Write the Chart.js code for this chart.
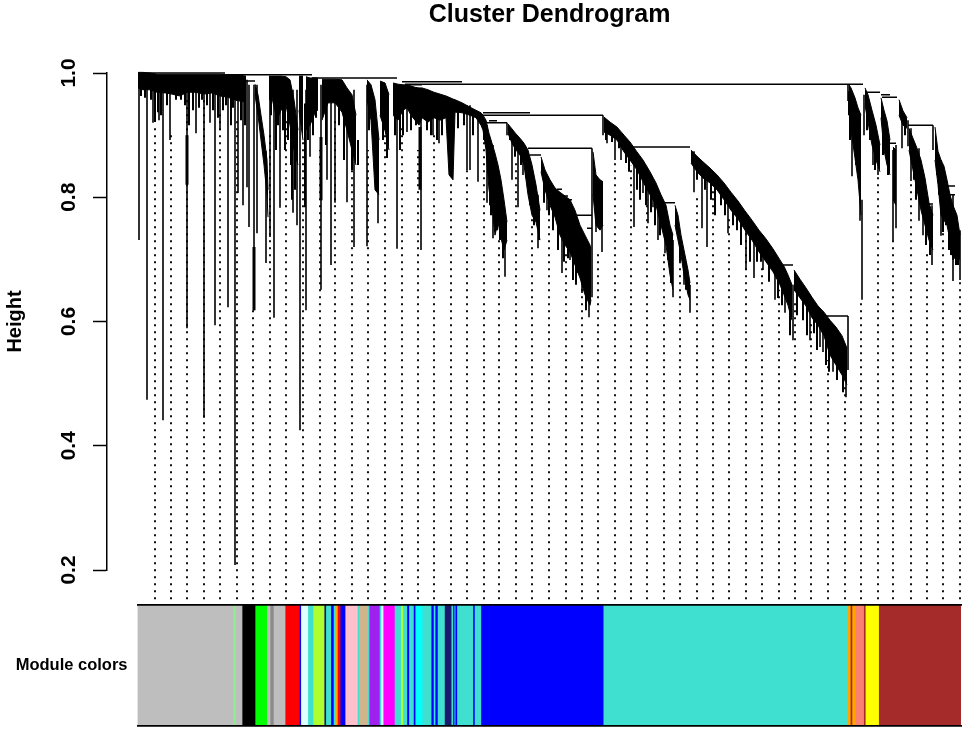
<!DOCTYPE html>
<html>
<head>
<meta charset="utf-8">
<title>Cluster Dendrogram</title>
<script src="https://cdn.jsdelivr.net/npm/chart.js@4"></script>
<style>
  html, body { margin: 0; padding: 0; background: #fff; }
  #wrap { position: relative; width: 965px; height: 732px; overflow: hidden; }
  canvas { position: absolute; left: 0; }
</style>
</head>
<body>
<div id="wrap">
  <canvas id="tree" width="965" height="600" style="top:0"></canvas>
  <canvas id="modules" width="965" height="132" style="top:600px"></canvas>
</div>
<script>
// tree outline (x = leaf position, null = gap between clusters)
const canopyX = [0,5,12,19,27,34,42,49,57,66,74,82,90,98,108,110,
  117,120,123,126,129,130,130.5,131,134,139,143,148,152,156,160,160.5,161,165,166.5,168,172,178,180,182,
  184,190,197,204,209,214,218,222,229,233,237,241,241.5,242,247,251,253,
  255,260,265,269,273,277,281,284,290,296,302,308,311,315,317,324,332,338,343,345,348,351,354,357,360,363,366,369,369.5,
  370,374,378,382,386,390,394,398,402,402.5,403,407,412,417,422,427,432,437,442,447,452,453,454,455,458,462,465,465.5,
  466,472,479,486,492,499,505,512,518,523,528,532,535,536,537,540,543,546,550,552,552.5,
  553,559,565,572,579,586,593,600,607,614,621,628,635,642,646,650,654,655,
  656,662,668,674,680,686,692,698,704,709,710,
  711,713,717,720,723,725,727,730,734,738,742,742.5,743,746,749,752,753,755,758,759.5,761,765,769,770.5,
  771,775,779,783,787,791,795,796,797,800,803,806,809,812,815,819,822];
const canopyTop = [1.001,1.001,1,.998,.998,.998,.998,.998,.998,.998,.998,.998,.997,.997,.995,null,
  .982,.965,.932,.9,.86,.812,null,.995,.995,.995,.995,.994,.989,.957,.908,null,.995,.995,null,.994,.992,.992,.992,null,
  .99,.99,.99,.989,.976,.965,.932,null,.989,.981,.957,.892,null,.987,.984,.965,null,
  .984,.982,.981,.981,.979,.977,.976,.976,.973,.969,.966,.963,.961,.958,.957,.952,.945,.94,.936,.932,.924,.903,.887,.871,.852,.828,.796,.76,null,
  .918,.91,.902,.895,.887,.876,.852,.82,.779,null,.865,.844,.828,.815,.808,.802,.796,.779,.755,.739,.723,.715,null,.873,.836,.828,.825,null,
  .929,.921,.913,.9,.889,.873,.86,.841,.823,.804,.787,.755,.739,null,.787,.771,.739,.715,.683,.662,null,
  .876,.866,.857,.847,.836,.823,.808,.794,.778,.763,.747,.733,.717,.699,.689,.675,.659,null,
  .683,.668,.654,.639,.625,.615,.602,.591,.577,.557,null,
  .981,.976,.96,.944,.932,null,.976,.965,.94,.916,.884,null,.96,.94,.923,.892,null,.881,.876,null,.957,.939,.928,null,
  .911,.895,.879,.86,.831,.791,.771,null,.913,.874,.86,.85,.828,.804,.787,.771,.739];
const canopyBottom = [.976,.973,.973,.969,.968,.966,.963,.969,.969,.966,.968,.963,.961,.956,.953,null,
  .965,.932,.892,.852,.804,.768,null,.957,.96,.924,.94,.948,.916,.876,.852,null,.94,.892,null,.908,.916,.94,.94,null,
  .924,.952,.952,.937,.908,.876,.852,null,.957,.924,.812,.804,null,.932,.908,.876,null,
  .932,.924,.94,.944,.932,.924,.916,.928,.921,.928,.924,.928,.836,.828,.937,.936,.932,.928,.916,.908,.876,.812,.787,.739,.76,.734,.715,.731,null,
  .903,.887,.876,.868,.852,.804,.771,.76,.731,null,.841,.812,.787,.768,.739,.723,.712,.691,.67,.643,.626,.635,null,.804,.755,.747,.755,null,
  .905,.9,.892,.873,.86,.844,.825,.804,.787,.755,.723,.675,.651,null,.755,.731,.707,.675,.643,.635,null,
  .855,.841,.831,.823,.812,.796,.779,.765,.747,.731,.712,.696,.68,.659,.643,.626,.602,null,
  .651,.638,.625,.606,.594,.577,.546,.53,.514,.498,null,
  .96,.908,.863,.828,.771,null,.948,.921,.884,.86,.841,null,.928,.876,.852,.836,null,.796,.787,null,.932,.916,.911,null,
  .876,.844,.812,.779,.755,.731,.715,null,.86,.82,.771,.763,.755,.731,.699,.707,.699];

// single branches hanging below the outline
const spikeX = [1,9,15,21,25,32,49,58,66,72,77,82,90,97,100,105,109,111,116,119,128,132,136,142,155,159,162,168,172,
  183,189,193,197,209,216,229,240,259,269,283,295,301,329,332,340,349,355,367,374,380,385,400,409,424,432,440,444,451,454,458,464,
  469,477,483,496,505,510,515,520,527,535,546,552,556,564,569,590,608,616,625,637,647,655,672,682,685,695,708,710,710,
  714,722,724,726,735,740,755,758,764,770,773,781,785,794,803,815,822,465,369,795];
const spikeTop = [.989,.989,.989,.989,.989,.989,.989,.989,.989,.989,.989,.989,.989,.989,.989,.989,.989,.981,.981,.981,.875,.973,.973,.973,.973,.973,.973,.973,.973,
  .981,.981,.981,.981,.973,.973,.981,.892,.981,.981,.976,.969,.966,.948,.948,.937,.916,.884,.747,.9,.892,.884,.804,.831,.796,.787,.763,.739,.715,.879,.836,.812,
  .924,.908,.9,.876,.852,.844,.828,.812,.779,.731,.707,.659,.874,.852,.844,.812,.771,.755,.739,.707,.683,.659,.643,.618,.61,.586,.554,.982,.609,
  .957,.908,.796,.965,.924,.876,.876,.884,.937,.924,.911,.879,.844,.787,.86,.804,.747,.932,.92,.916];
const spikeBottom = [.731,.474,.92,.924,.441,.892,.589,.903,.445,.92,.594,.908,.623,.208,.807,.787,.816,.752,.618,.742,.694,.736,.606,.783,.775,.755,.425,.618,.865,
  .651,.828,.691,.791,.792,.72,.721,.758,.717,.905,.715,.9,.887,.844,.844,.825,.791,.734,.672,.828,.784,.836,.718,.779,.678,.699,.678,.646,.607,.639,.744,.712,
  .887,.86,.86,.752,.807,.758,.784,.731,.71,.639,.659,.614,.808,.75,.72,.742,.683,.67,.683,.635,.614,.57,.57,.559,.551,.519,.478,.955,.522,
  .834,.762,.635,.9,.852,.836,.73,.75,.879,.882,.826,.762,.739,.691,.738,.665,.667,.9,.9,.876];

// the few stems that read thicker than the rest
const thickX = [116,183,282,49];
const thickTop = [.72,.897,.913,.9];
const thickBottom = [.618,.795,.812,.82];

// short stubs along the underside of the branches
const stubX = [3,7,13,17,20,23,29,38,43,47,51,55,61,64,69,75,80,85,88,93,95,103,107,
  133,138,140,145,147,150,153,154,157,163,167,170,175,178,188,201,206,214,220,231,245,249,257,262,265,273,278,289,293,299,304,320,326,335,
  346,352,353,359,362,365,372,377,383,388,392,396,401,406,411,415,420,426,430,435,438,448,
  468,474,481,488,491,499,502,508,513,517,522,530,533,542,548,
  559,567,573,577,583,587,595,599,603,612,619,623,631,640,644,652,659,665,669,676,679,688,691,699,705,
  711,712,718,729,732,737,745,750,767,776,778,788,792,799,801,805,808,811,813,818,820];
const stubBottom = [.963,.96,.957,.921,.937,.932,.948,.957,.957,.948,.916,.94,.944,.957,.948,.94,.928,.94,.948,.916,.944,.924,.916,
  .932,.876,.916,.908,.876,.892,.852,.796,.812,.924,.784,.892,.9,.928,.884,.916,.86,.844,.852,.908,.892,.863,.9,.876,.9,.908,.916,.908,.9,.892,.9,.911,.916,.9,
  .892,.787,.771,.747,.731,.702,.892,.865,.852,.831,.787,.755,.731,.791,.771,.747,.715,.696,.702,.667,.659,.618,
  .892,.889,.879,.855,.841,.812,.796,.787,.776,.755,.739,.699,.662,.696,.651,
  .828,.812,.796,.771,.787,.771,.755,.747,.723,.696,.696,.696,.664,.638,.626,.578,.61,.602,.578,.581,.554,.53,.519,.506,.486,
  .932,.892,.852,.908,.892,.844,.868,.836,.9,.828,.796,.723,.707,.836,.804,.744,.755,.715,.707,.691,.691];

// horizontal merges
const linkStart = [0,87,174,264,272,267,710,107,345,345,347,351,390,392,439,449,419,425,430,495,525,645,689,727,744,743,770,752,790,809,810];
const linkEnd = [87,174,259,324,284,710,725,117,465,392,369,359,454,403,454,454,424,430,434,552,537,655,710,742,759,752,795,758,795,817,817];
const linkHeight = [1,.997,.992,.986,.981,.982,.982,.987,.932,.936,.92,.923,.879,.868,.771,.75,.813,.802,.796,.881,.791,.691,.609,.969,.961,.965,.916,.887,.789,.818,.804];

// dotted guide columns
const guideX = [17,33,49,66,82,99,115,132,148,165,182,197,214,230,247,264,280,296,313,329,346,361,378,394,411,428,444,460,477,493,509,526,542,559,575,591,608,624,641,657,673,690,707,723,740,755,773,789,805,822];
const guideTop = [.913,.9,.957,.957,.94,.924,.618,.908,.924,.892,.876,.924,.908,.876,.924,.916,.876,.9,.828,.844,.916,.731,.86,.771,.787,.715,.667,.715,.86,.852,.796,.715,.699,.804,.812,.771,.747,.691,.651,.635,.602,.538,.498,.635,.836,.731,.828,.715,.755,.667];
const guideBase = .153;

const heightTicks = [.2,.4,.6,.8,1];

// module colour strip, left to right
const moduleColors = ['#bebebe','#90ee90','#bebebe','#000000','#00ff00','#bebebe','#8a8a8a','#bebebe','#ff0000','#0000ff','#e0ffff','#40e0d0','#adff2f','#191970','#40e0d0','#0000ff','#40e0d0','#ffa500','#ff0000','#0000ff','#ffc0cb','#40e0d0','#d2b48c','#40e0d0','#a020f0','#40e0d0','#e0ffff','#ff00ff','#40e0d0','#adff2f','#40e0d0','#0000ff','#40e0d0','#0000ff','#00ffff','#40e0d0','#0000ff','#40e0d0','#0000ff','#40e0d0','#191970','#40e0d0','#0000ff','#40e0d0','#0000ff','#40e0d0','#0000ff','#40e0d0','#0000ff','#40e0d0','#ffa500','#a52a2a','#ffa500','#fa8072','#a52a2a','#ffff00','#a52a2a'];
const moduleWidths = [96,1.8,6.7,13,11.7,3.3,3.3,11.7,14.3,1.4,7,5.3,11,1.7,5,2.6,1.7,2.3,2.7,5,12.3,1.4,9,1.3,10.3,1.4,2.3,11.3,6.4,2,4,2,4.6,1.7,7,9,2.3,1.7,2.3,7,6.7,1.7,1.3,1,1.7,16,1.6,6.4,122.3,244.3,2.7,1.7,3.3,8.3,1.7,13.3,82.4];

const sans = '"Liberation Sans", Arial, sans-serif';

// turn parallel lists into one path with breaks
function segments(xs, from, to) {
  const pts = [];
  xs.forEach(function (x, i) {
    pts.push({ x: x, y: from[i] }, { x: x, y: to[i] }, { x: x, y: null });
  });
  return pts;
}

// stubs start inside the band at the nearest outline knot
function bandMiddle(x) {
  let best = -1;
  canopyX.forEach(function (cx, i) {
    if (canopyTop[i] !== null && (best < 0 || Math.abs(cx - x) < Math.abs(canopyX[best] - x))) best = i;
  });
  return (canopyTop[best] + canopyBottom[best]) / 2;
}

const hLinks = [];
linkStart.forEach(function (x, i) {
  hLinks.push({ x: x, y: linkHeight[i] }, { x: linkEnd[i], y: linkHeight[i] }, { x: linkEnd[i], y: null });
});

const guidePts = segments(guideX, guideX.map(function () { return guideBase; }), guideTop);

function lineSet(data, width, extra) {
  return Object.assign({
    data: data, showLine: true, pointRadius: 0, borderColor: '#000', borderWidth: width,
    clip: false, spanGaps: false, tension: 0
  }, extra || {});
}

new Chart(document.getElementById('tree'), {
  type: 'scatter',
  data: {
    datasets: [
      lineSet(canopyX.map(function (x, i) { return { x: x, y: canopyTop[i] }; }), 1, { fill: '+1', backgroundColor: '#000' }),
      lineSet(canopyX.map(function (x, i) { return { x: x, y: canopyBottom[i] }; }), 1),
      lineSet(segments(spikeX, spikeTop, spikeBottom), 1.6),
      lineSet(segments(thickX, thickTop, thickBottom), 3),
      lineSet(segments(stubX, stubX.map(bandMiddle), stubBottom), 2),
      lineSet(hLinks, 1.5),
      lineSet(guidePts, 2, { borderColor: '#111', borderDash: [2, 5] })
    ]
  },
  options: {
    responsive: false,
    animation: false,
    layout: { padding: { right: 3, bottom: 30 } },
    plugins: {
      legend: { display: false },
      tooltip: { enabled: false },
      title: {
        display: true,
        text: 'Cluster Dendrogram',
        font: { family: sans, size: 25, weight: 'bold' },
        color: '#000',
        fullSize: false,
        padding: { top: 0, bottom: 43 }
      }
    },
    scales: {
      x: { display: false, min: -31, max: 824 },
      y: {
        min: .2,
        max: 1,
        afterBuildTicks: function (s) { s.ticks = heightTicks.map(function (v) { return { value: v }; }); },
        afterFit: function (s) { s.width = 107; },
        grid: { drawOnChartArea: false, tickLength: 14, tickWidth: 1.5, tickColor: '#000' },
        border: { color: '#000', width: 1.5 },
        ticks: {
          color: '#000', minRotation: 90, maxRotation: 90, crossAlign: 'center', padding: 9,
          font: { family: sans, size: 21, weight: 'bold' },
          callback: function (v) { return Number(v).toFixed(1); }
        },
        title: { display: true, text: 'Height', color: '#000', font: { family: sans, size: 20, weight: 'bold' }, padding: { top: 3, bottom: 0 } }
      }
    }
  },
  plugins: [{
    // R centres the main title over the leaves, not over the axis box
    id: 'titleOverLeaves',
    afterLayout: function (chart) {
      chart.titleBlock.left = chart.scales.x.getPixelForValue(0);
      chart.titleBlock.right = chart.scales.x.getPixelForValue(823);
    }
  }]
});

new Chart(document.getElementById('modules'), {
  type: 'bar',
  data: {
    labels: ['Module colors'],
    datasets: moduleColors.map(function (c, i) {
      return { data: [moduleWidths[i]], backgroundColor: c, borderWidth: 0, barPercentage: 1, categoryPercentage: 1, xAxisID: 'x' };
    })
  },
  options: {
    indexAxis: 'y',
    responsive: false,
    animation: false,
    layout: { padding: { top: 5, right: 4, bottom: 6 } },
    plugins: { legend: { display: false }, tooltip: { enabled: false } },
    scales: {
      x: {
        stacked: true, min: 0, max: 823.2, position: 'bottom',
        afterFit: function (s) { s.height = 0; s.paddingLeft = 0; s.paddingRight = 0; },
        grid: { display: false }, ticks: { display: false },
        border: { color: '#000', width: 1.8, z: 2 }
      },
      xTop: {
        type: 'linear', axis: 'x', min: 0, max: 823.2, position: 'top',
        afterFit: function (s) { s.height = 0; s.paddingLeft = 0; s.paddingRight = 0; },
        grid: { display: false }, ticks: { display: false },
        border: { color: '#000', width: 1.8, z: 2 }
      },
      y: {
        stacked: true,
        // the label is shorter than the strip, so it needs no extra room above or below
        afterFit: function (s) { s.width = 137.5; s.paddingTop = 0; s.paddingBottom = 0; },
        grid: { display: false, drawTicks: false },
        border: { display: false },
        ticks: { color: '#000', padding: 10, font: { family: sans, size: 16.5, weight: 'bold' } }
      }
    }
  }
});
</script>
</body>
</html>
